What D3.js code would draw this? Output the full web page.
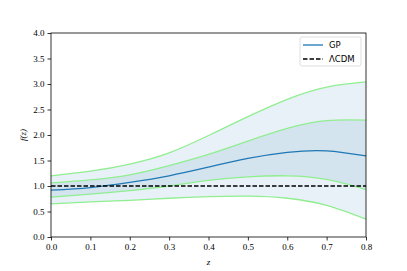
<!DOCTYPE html>
<html>
<head>
<meta charset="utf-8">
<script src="https://cdn.jsdelivr.net/npm/d3@7"></script>
<style>
  body { margin: 0; background: #fff; }
</style>
</head>
<body>
<div id="chart"></div>
<script>
// reconstructed f(z) posterior
var zs      = [0.0, 0.1, 0.2, 0.3, 0.4, 0.5, 0.6, 0.7, 0.8];
var mean    = [0.92, 0.97, 1.07, 1.20, 1.37, 1.54, 1.66, 1.69, 1.59];
var up1     = [1.06, 1.12, 1.22, 1.40, 1.62, 1.88, 2.13, 2.28, 2.29];
var lo1     = [0.78, 0.84, 0.91, 1.00, 1.11, 1.18, 1.20, 1.13, 0.93];
var up2     = [1.20, 1.29, 1.43, 1.65, 1.99, 2.36, 2.70, 2.94, 3.04];
var lo2     = [0.65, 0.69, 0.72, 0.76, 0.79, 0.80, 0.76, 0.62, 0.35];
var lcdm    = 1.0;
var xTicks  = [0, 0.1, 0.2, 0.3, 0.4, 0.5, 0.6, 0.7, 0.8];
var yTicks  = [0, 0.5, 1, 1.5, 2, 2.5, 3, 3.5, 4];

var W = 407, H = 271;
var margin = {top: 33, right: 41, bottom: 34, left: 51},
    width = W - margin.left - margin.right,
    height = H - margin.top - margin.bottom;
var serif = "Liberation Serif, DejaVu Serif, serif";

var svg = d3.select("#chart")
    .append("svg")
    .attr("width", W)
    .attr("height", H)
    .append("g")
    .attr("transform", "translate(" + margin.left + "," + margin.top + ")");

var x = d3.scaleLinear().domain([0, 0.8]).range([0, width]);
var y = d3.scaleLinear().domain([0, 4]).range([height, 0]);

var rows = zs.map(function(z, i) {
    return {z: z, m: mean[i], u1: up1[i], l1: lo1[i], u2: up2[i], l2: lo2[i]};
});

var band = function(lo, hi) {
    return d3.area()
        .x(function(d) { return x(d.z); })
        .y0(function(d) { return y(d[lo]); })
        .y1(function(d) { return y(d[hi]); })
        .curve(d3.curveNatural);
};
var line = function(k) {
    return d3.line()
        .x(function(d) { return x(d.z); })
        .y(function(d) { return y(d[k]); })
        .curve(d3.curveNatural);
};

// bands (alpha 0.1 tab:blue, stacked)
svg.append("path").datum(rows).attr("d", band("l2", "u2"))
    .attr("fill", "#1f77b4").attr("fill-opacity", 0.1);
svg.append("path").datum(rows).attr("d", band("l1", "u1"))
    .attr("fill", "#1f77b4").attr("fill-opacity", 0.1);

// green band edges
["u2", "u1", "l1", "l2"].forEach(function(k) {
    svg.append("path").datum(rows).attr("d", line(k))
        .attr("fill", "none").attr("stroke", "#90ee90").attr("stroke-width", 1.3);
});

// mean
svg.append("path").datum(rows).attr("d", line("m"))
    .attr("fill", "none").attr("stroke", "#1f77b4").attr("stroke-width", 1.3);

// LCDM
svg.append("line")
    .attr("x1", x(0)).attr("x2", x(0.8))
    .attr("y1", y(lcdm)).attr("y2", y(lcdm))
    .attr("stroke", "#000").attr("stroke-width", 1.3)
    .attr("stroke-dasharray", "4.5,2");

// axes
var gx = svg.append("g")
    .attr("transform", "translate(0," + height + ")")
    .call(d3.axisBottom(x).tickValues(xTicks).tickSize(3.5).tickPadding(3)
        .tickFormat(d3.format(".1f")));
var gy = svg.append("g")
    .call(d3.axisLeft(y).tickValues(yTicks).tickSize(3.5).tickPadding(3)
        .tickFormat(d3.format(".1f")));
[gx, gy].forEach(function(g) {
    g.attr("font-family", serif).attr("font-size", 9);
    g.select(".domain").remove();
    g.selectAll(".tick line").attr("stroke", "#000").attr("stroke-width", 0.8);
    g.selectAll(".tick text").attr("fill", "#000");
});

svg.append("rect")
    .attr("width", width).attr("height", height)
    .attr("fill", "none").attr("stroke", "#000").attr("stroke-width", 0.8);

// labels
svg.append("text")
    .attr("x", width / 2).attr("y", height + 28)
    .attr("text-anchor", "middle")
    .attr("font-family", serif).attr("font-style", "italic")
    .attr("font-size", 9)
    .text("z");
svg.append("text")
    .attr("transform", "translate(-25," + (height / 2) + ") rotate(-90)")
    .attr("text-anchor", "middle")
    .attr("font-family", serif).attr("font-style", "italic")
    .attr("font-size", 9)
    .text("f(z)");

// legend
var lg = svg.append("g").attr("transform", "translate(" + (width - 66) + ",4)");
lg.append("rect")
    .attr("width", 61).attr("height", 29).attr("rx", 2)
    .attr("fill", "#fff").attr("fill-opacity", 0.8)
    .attr("stroke", "#d6d6d6").attr("stroke-width", 0.8);
var items = [
    {label: "GP", color: "#1f77b4", dash: null},
    {label: "\u039BCDM", color: "#000", dash: "4.5,2"}
];
items.forEach(function(it, i) {
    var yy = 8 + i * 14;
    lg.append("line")
        .attr("x1", 3).attr("x2", 23).attr("y1", yy).attr("y2", yy)
        .attr("stroke", it.color).attr("stroke-width", 1.3)
        .attr("stroke-dasharray", it.dash);
    lg.append("text")
        .attr("x", 29).attr("y", yy + 3)
        .attr("font-family", "DejaVu Sans, sans-serif").attr("font-size", 8.5)
        .text(it.label);
});
</script>
</body>
</html>
